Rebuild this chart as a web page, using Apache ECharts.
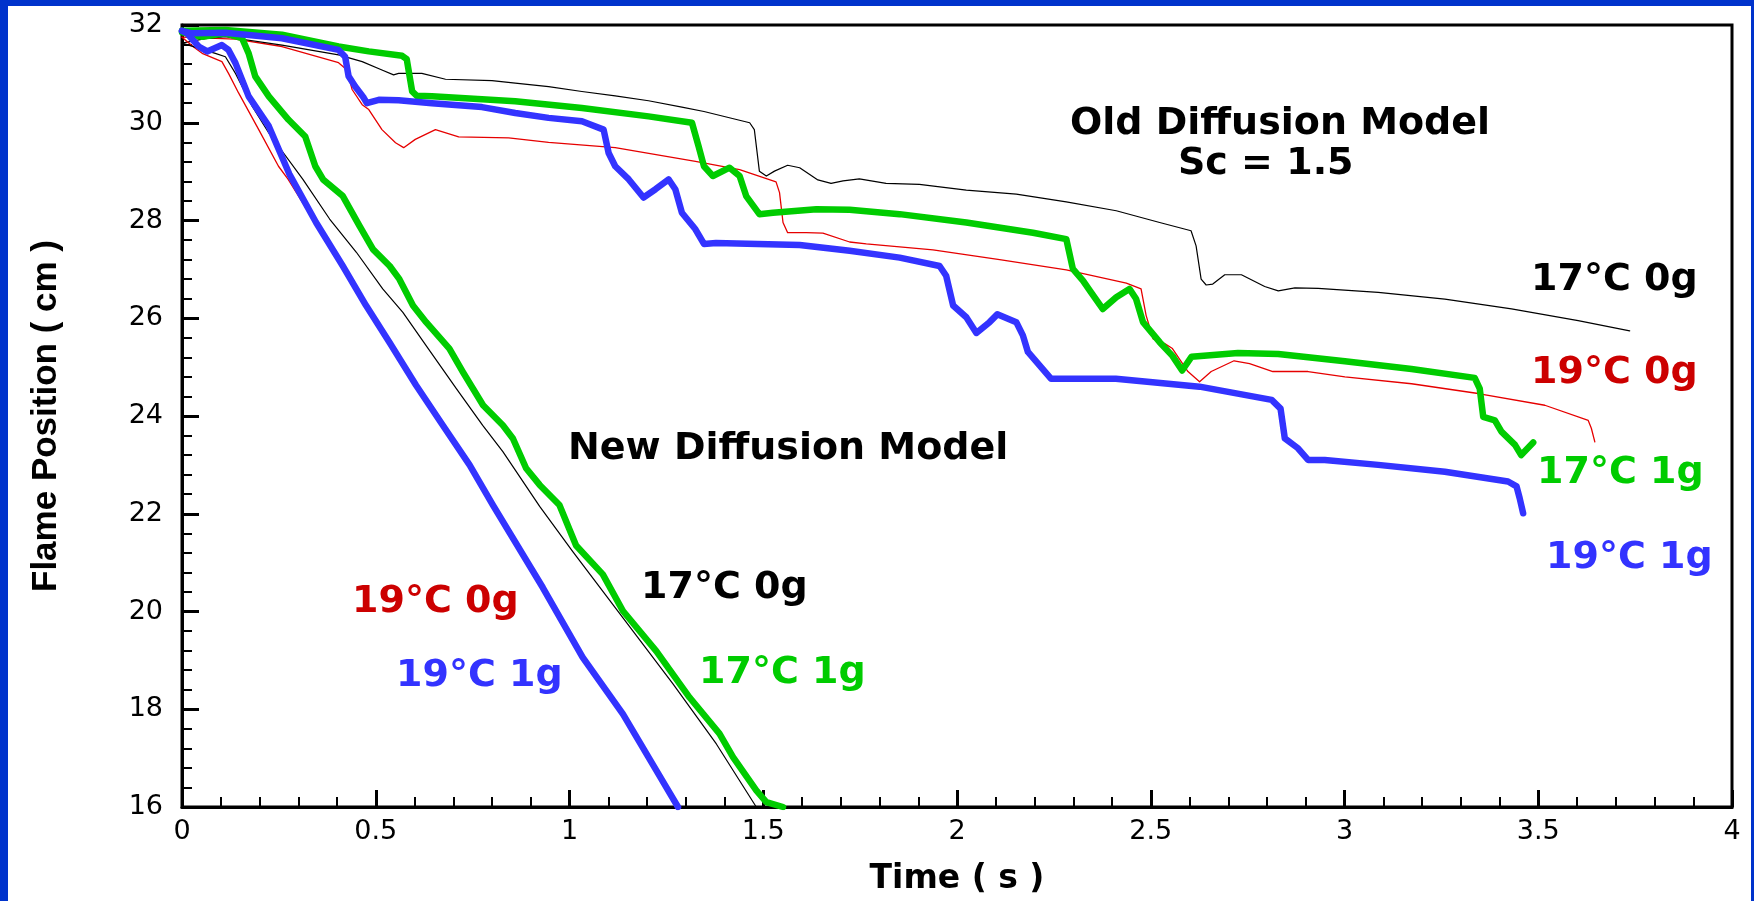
<!DOCTYPE html>
<html>
<head>
<meta charset="utf-8">
<script src="https://cdn.jsdelivr.net/npm/echarts@6/dist/echarts.min.js"></script>
<style>
html,body{margin:0;padding:0;background:#fff;}
#c{width:1754px;height:901px;}
</style>
</head>
<body>
<div id="c"></div>
<script>
// ---- Axis settings (values) ----
const xMin = 0, xMax = 4, xStep = 0.5;
const yMin = 16, yMax = 32, yStep = 2;
const xTitle = 'Time ( s )';
const yTitle = 'Flame Position ( cm )';

// ---- Old diffusion model (Sc = 1.5) : [time s, flame position cm] ----
const old17C0g = [[0,31.63],[0.06,31.72],[0.112,31.76],[0.258,31.59],[0.404,31.39],[0.465,31.25],[0.516,31.08],[0.546,30.98],[0.559,31.01],[0.619,31.01],[0.68,30.89],[0.80,30.86],[0.86,30.81],[0.946,30.74],[1.032,30.64],[1.118,30.55],[1.204,30.45],[1.29,30.32],[1.347,30.23],[1.465,30.0],[1.477,29.86],[1.49,29.01],[1.508,28.91],[1.529,29.01],[1.563,29.13],[1.594,29.08],[1.641,28.83],[1.675,28.76],[1.706,28.81],[1.748,28.85],[1.817,28.76],[1.903,28.74],[2.024,28.62],[2.153,28.54],[2.282,28.38],[2.411,28.20],[2.523,27.96],[2.604,27.79],[2.617,27.48],[2.63,26.80],[2.643,26.68],[2.66,26.70],[2.691,26.89],[2.734,26.89],[2.794,26.65],[2.829,26.56],[2.872,26.62],[2.932,26.61],[3.087,26.53],[3.259,26.39],[3.431,26.19],[3.603,25.95],[3.736,25.74]];
const old19C0g = [[0,31.75],[0.138,31.71],[0.258,31.56],[0.404,31.23],[0.426,31.08],[0.439,30.68],[0.465,30.37],[0.482,30.27],[0.516,29.86],[0.551,29.59],[0.572,29.49],[0.602,29.66],[0.654,29.86],[0.714,29.71],[0.843,29.69],[0.946,29.60],[1.118,29.49],[1.325,29.21],[1.439,29.04],[1.533,28.79],[1.542,28.57],[1.551,27.96],[1.563,27.75],[1.611,27.75],[1.654,27.74],[1.723,27.56],[1.766,27.52],[1.938,27.40],[2.11,27.20],[2.282,26.99],[2.437,26.72],[2.475,26.60],[2.488,26.06],[2.506,25.58],[2.536,25.48],[2.556,25.38],[2.596,24.91],[2.626,24.70],[2.656,24.91],[2.715,25.13],[2.755,25.07],[2.815,24.91],[2.906,24.91],[3.001,24.80],[3.173,24.66],[3.345,24.46],[3.517,24.22],[3.629,23.91],[3.637,23.75],[3.646,23.47]];
const old17C1g = [[0,31.88],[0.112,31.9],[0.258,31.80],[0.404,31.56],[0.482,31.46],[0.568,31.37],[0.58,31.3],[0.594,30.64],[0.606,30.55],[0.645,30.54],[0.774,30.48],[0.86,30.44],[1.032,30.30],[1.204,30.13],[1.316,30.0],[1.333,29.52],[1.347,29.11],[1.37,28.91],[1.413,29.08],[1.439,28.91],[1.456,28.50],[1.49,28.13],[1.525,28.16],[1.637,28.23],[1.723,28.22],[1.852,28.13],[2.024,27.96],[2.196,27.75],[2.282,27.62],[2.299,27.01],[2.325,26.77],[2.346,26.53],[2.376,26.19],[2.411,26.43],[2.445,26.60],[2.462,26.40],[2.48,25.92],[2.523,25.51],[2.556,25.23],[2.581,24.93],[2.605,25.21],[2.725,25.29],[2.829,25.27],[3.001,25.12],[3.173,24.96],[3.336,24.78],[3.349,24.56],[3.358,23.98],[3.388,23.91],[3.405,23.68],[3.44,23.41],[3.456,23.2],[3.487,23.46]];
const old19C1g = [[0,31.88],[0.026,31.83],[0.112,31.84],[0.258,31.73],[0.404,31.49],[0.421,31.35],[0.43,30.95],[0.447,30.74],[0.469,30.51],[0.477,30.40],[0.508,30.47],[0.559,30.46],[0.645,30.40],[0.774,30.32],[0.86,30.20],[0.946,30.10],[1.032,30.03],[1.088,29.86],[1.101,29.38],[1.118,29.11],[1.153,28.84],[1.191,28.47],[1.222,28.64],[1.256,28.84],[1.273,28.64],[1.29,28.16],[1.325,27.82],[1.347,27.52],[1.378,27.54],[1.594,27.50],[1.723,27.38],[1.852,27.24],[1.955,27.07],[1.972,26.87],[1.99,26.26],[2.024,26.02],[2.05,25.70],[2.084,25.92],[2.104,26.08],[2.153,25.92],[2.17,25.65],[2.183,25.31],[2.243,24.76],[2.41,24.76],[2.626,24.60],[2.812,24.33],[2.835,24.15],[2.846,23.54],[2.88,23.34],[2.906,23.10],[2.949,23.10],[3.087,23.00],[3.259,22.86],[3.422,22.66],[3.444,22.56],[3.452,22.32],[3.461,22.01]];

// ---- New diffusion model ----
const new17C0g = [[0,31.63],[0.086,31.42],[0.112,31.35],[0.138,31.01],[0.181,30.34],[0.224,29.79],[0.312,28.84],[0.381,28.03],[0.45,27.35],[0.518,26.60],[0.57,26.12],[0.63,25.44],[0.708,24.56],[0.776,23.81],[0.828,23.27],[0.923,22.15],[1.008,21.23],[1.138,19.87],[1.267,18.52],[1.379,17.29],[1.482,16.0]];
const new19C0g = [[0,31.75],[0.03,31.55],[0.052,31.42],[0.103,31.25],[0.12,31.01],[0.146,30.61],[0.198,29.86],[0.249,29.11],[0.274,28.84],[0.343,27.96],[0.412,27.07],[0.472,26.26],[0.533,25.5],[0.601,24.63],[0.67,23.81],[0.739,23.0],[0.799,22.18],[0.928,20.49],[1.031,19.06],[1.135,17.90],[1.221,16.75],[1.277,16.0]];
const new17C1g = [[0,31.85],[0.052,31.76],[0.112,31.83],[0.155,31.73],[0.172,31.42],[0.189,30.95],[0.224,30.54],[0.275,30.06],[0.318,29.72],[0.344,29.11],[0.364,28.84],[0.415,28.50],[0.458,27.89],[0.493,27.41],[0.536,27.07],[0.561,26.80],[0.596,26.26],[0.630,25.92],[0.690,25.38],[0.725,24.90],[0.777,24.22],[0.828,23.81],[0.854,23.54],[0.888,22.93],[0.923,22.59],[0.974,22.18],[1.017,21.35],[1.086,20.76],[1.138,20.01],[1.224,19.19],[1.31,18.24],[1.387,17.50],[1.422,17.02],[1.482,16.34],[1.508,16.10],[1.551,16.0]];
const new19C1g = [[0,31.88],[0.013,31.83],[0.043,31.56],[0.065,31.46],[0.103,31.59],[0.12,31.49],[0.138,31.22],[0.172,30.54],[0.224,29.93],[0.277,28.95],[0.346,27.96],[0.415,27.07],[0.475,26.26],[0.536,25.5],[0.604,24.63],[0.673,23.81],[0.742,23.0],[0.802,22.18],[0.931,20.49],[1.034,19.06],[1.138,17.90],[1.224,16.75],[1.28,16.0]];

// ---- Annotation texts ----
const oldModelTitle = 'Old Diffusion Model';
const oldModelSc = 'Sc = 1.5';
const newModelTitle = 'New Diffusion Model';
const lbl17C0g = '17°C 0g', lbl19C0g = '19°C 0g', lbl17C1g = '17°C 1g', lbl19C1g = '19°C 1g';

const C_BLACK = '#000000', C_RED = '#e60000', C_RED_TXT = '#cc0000', C_GREEN = '#00cc00', C_BLUE = '#3333ff', C_FRAME = '#0033cc';
const annFont = {fontFamily: '"DejaVu Sans", sans-serif', fontWeight: 'bold', fontSize: 38};

function line(name, data, color, width) {
  return {
    name, type: 'line', data, showSymbol: false, symbol: 'none', animation: false,
    lineStyle: {color, width, join: 'round', cap: 'round'}, z: 2
  };
}
function txt(text, x, y, color) {
  return {
    type: 'text', x, y, z: 10,
    style: Object.assign({}, annFont, {text, fill: color, align: 'left', verticalAlign: 'middle'})
  };
}

const chart = echarts.init(document.getElementById('c'), null, {renderer: 'canvas'});
chart.setOption({
  backgroundColor: '#ffffff',
  animation: false,
  grid: {left: 182, right: 22, top: 25, bottom: 91, show: true, borderColor: '#000', borderWidth: 3, backgroundColor: '#fff'},
  xAxis: {
    type: 'value', min: xMin, max: xMax, interval: xStep,
    name: xTitle, nameLocation: 'middle', nameGap: 56,
    nameTextStyle: {fontFamily: '"DejaVu Sans", sans-serif', fontWeight: 'bold', fontSize: 33, color: '#000'},
    axisLine: {show: true, onZero: false, lineStyle: {color: '#000', width: 3}},
    axisTick: {show: true, inside: true, length: 17, lineStyle: {color: '#000', width: 3}},
    minorTick: {show: true, splitNumber: 5, length: 10, lineStyle: {color: '#000', width: 2}},
    axisLabel: {fontFamily: '"DejaVu Sans", sans-serif', fontSize: 27, color: '#000', margin: 11},
    splitLine: {show: false}
  },
  yAxis: {
    type: 'value', min: yMin, max: yMax, interval: yStep,
    name: yTitle, nameLocation: 'middle', nameGap: 118, nameRotate: 90,
    nameTextStyle: {fontFamily: '"Liberation Sans", Arial, sans-serif', fontWeight: 'bold', fontSize: 35, color: '#000'},
    axisLine: {show: true, onZero: false, lineStyle: {color: '#000', width: 3}},
    axisTick: {show: true, inside: true, length: 17, lineStyle: {color: '#000', width: 3}},
    minorTick: {show: true, splitNumber: 5, length: 10, lineStyle: {color: '#000', width: 2}},
    axisLabel: {fontFamily: '"DejaVu Sans", sans-serif', fontSize: 27, color: '#000', margin: 19},
    splitLine: {show: false}
  },
  series: [
    line('old 19°C 0g', old19C0g, C_RED, 1.3),
    line('old 17°C 0g', old17C0g, C_BLACK, 1.2),
    line('new 19°C 0g', new19C0g, C_RED, 1.3),
    line('new 17°C 0g', new17C0g, C_BLACK, 1.2),
    line('old 17°C 1g', old17C1g, C_GREEN, 6.5),
    line('new 17°C 1g', new17C1g, C_GREEN, 6.5),
    line('old 19°C 1g', old19C1g, C_BLUE, 6.5),
    line('new 19°C 1g', new19C1g, C_BLUE, 6.5)
  ],
  graphic: [
    {type: 'rect', shape: {x: 0, y: 0, width: 8, height: 901}, style: {fill: C_FRAME}, z: 20},
    {type: 'rect', shape: {x: 0, y: 0, width: 1754, height: 6}, style: {fill: C_FRAME}, z: 20},
    {type: 'rect', shape: {x: 1751, y: 0, width: 3, height: 901}, style: {fill: C_FRAME}, z: 20},
    txt(oldModelTitle, 1070, 124, C_BLACK),
    txt(oldModelSc, 1178, 164, C_BLACK),
    txt(lbl17C0g, 1531, 280, C_BLACK),
    txt(lbl19C0g, 1531, 373, C_RED_TXT),
    txt(lbl17C1g, 1537, 473, C_GREEN),
    txt(lbl19C1g, 1546, 558, C_BLUE),
    txt(newModelTitle, 568, 449, C_BLACK),
    txt(lbl19C0g, 352, 602, C_RED_TXT),
    txt(lbl17C0g, 641, 588, C_BLACK),
    txt(lbl19C1g, 396, 676, C_BLUE),
    txt(lbl17C1g, 699, 673, C_GREEN)
  ]
});
</script>
</body>
</html>
